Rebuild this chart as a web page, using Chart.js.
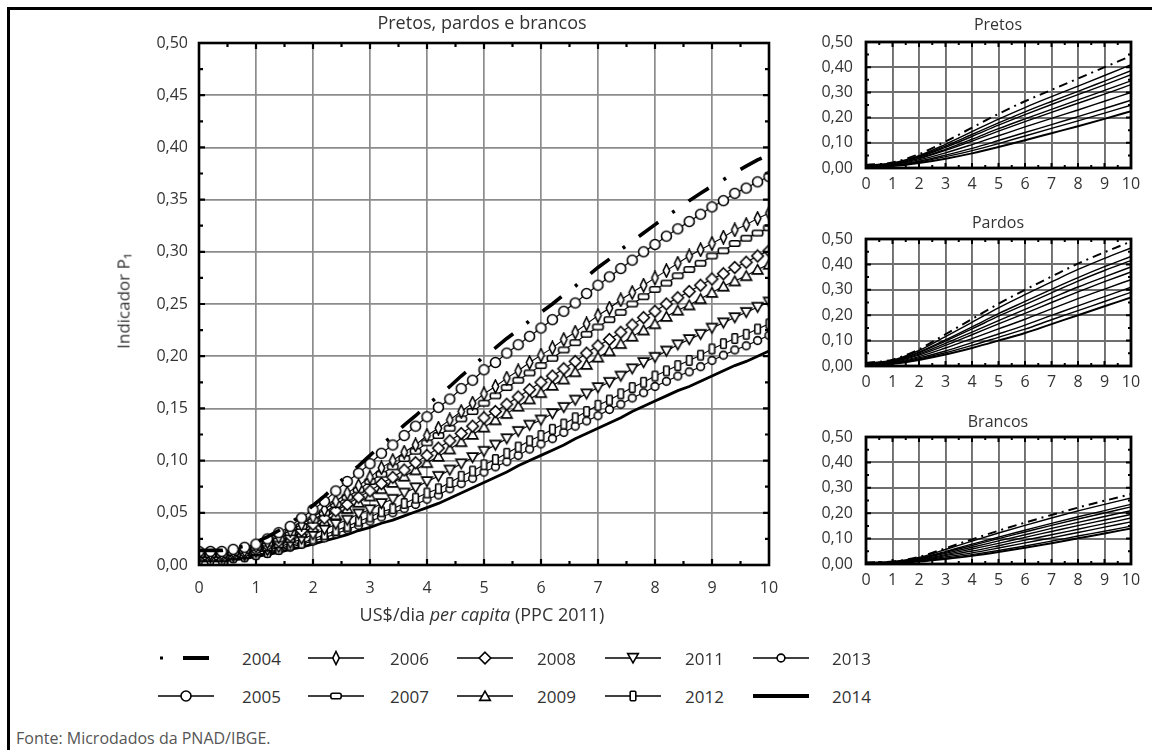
<!DOCTYPE html>
<html><head><meta charset="utf-8">
<script src="https://cdn.jsdelivr.net/npm/chart.js@4.4.1/dist/chart.umd.min.js"></script>
<style>
html,body{margin:0;padding:0;background:#fff;}
body{width:1156px;height:750px;position:relative;overflow:hidden;font-family:"Open Sans",sans-serif;color:#333;}
#frameTop{position:absolute;left:7px;top:7px;width:1145px;height:3px;background:#000;}
#frameLeft{position:absolute;left:7px;top:7px;width:3px;height:750px;background:#000;}
canvas.c{position:absolute;}
.t{position:absolute;white-space:nowrap;line-height:1;transform:translate(-50%,-50%);}
.lg{position:absolute;white-space:nowrap;line-height:1;transform:translateY(-50%);font-size:17px;color:#333;}
</style></head><body>
<div id="frameTop"></div><div id="frameLeft"></div>
<canvas class="c" id="main" width="800" height="640" style="left:0;top:0"></canvas>
<canvas class="c" id="pretos" width="376" height="200" style="left:780px;top:0"></canvas>
<canvas class="c" id="pardos" width="376" height="200" style="left:780px;top:200px"></canvas>
<canvas class="c" id="brancos" width="376" height="200" style="left:780px;top:400px"></canvas>
<div class="t" style="left:482px;top:22px;font-size:18px;">Pretos, pardos e brancos</div>
<div class="t" style="left:123px;top:301px;font-size:17px;transform:translate(-50%,-50%) rotate(-90deg);">Indicador P₁</div>
<div class="t" style="left:482px;top:614px;font-size:18px;">US$/dia <i>per capita</i> (PPC 2011)</div>
<div class="t" style="left:998px;top:24px;font-size:16px;">Pretos</div>
<div class="t" style="left:998px;top:222px;font-size:16px;">Pardos</div>
<div class="t" style="left:998px;top:421px;font-size:16px;">Brancos</div>
<div class="lg" style="left:16px;top:738px;font-size:16px;color:#555;">Fonte: Microdados da PNAD/IBGE.</div>
<div id="legend"></div>
<script>
// ---------- DATA ----------
const years = [2004,2005,2006,2007,2008,2009,2011,2012,2013,2014];
const xMain = [0,0.2,0.4,0.6,0.8,1,1.2,1.4,1.6,1.8,2,2.2,2.4,2.6,2.8,3,3.2,3.4,3.6,3.8,4,4.2,4.4,4.6,4.8,5,5.2,5.4,5.6,5.8,6,6.2,6.4,6.6,6.8,7,7.2,7.4,7.6,7.8,8,8.2,8.4,8.6,8.8,9,9.2,9.4,9.6,9.8,10];
const xSmall = [0,1,2,3,4,5,6,7,8,9,10];
const xTickLabels = ['0','1','2','3','4','5','6','7','8','9','10'];

const main2004 = [.014,.014,.014,.016,.018,.022,.027,.033,.040,.048,.057,.066,.076,.086,.095,.105,.115,.124,.134,.143,.153,.162,.171,.181,.190,.200,.208,.217,.225,.234,.242,.250,.259,.267,.276,.285,.293,.302,.310,.318,.326,.334,.341,.349,.356,.363,.369,.376,.382,.388,.393];
const main2005 = [.013,.013,.013,.015,.017,.020,.025,.031,.037,.045,.053,.061,.071,.080,.088,.097,.107,.115,.124,.133,.142,.151,.159,.169,.177,.187,.194,.203,.211,.219,.227,.235,.243,.251,.260,.268,.276,.284,.292,.300,.307,.315,.322,.329,.336,.343,.349,.356,.361,.367,.372];
const main2006 = [.011,.011,.011,.013,.014,.018,.022,.027,.033,.039,.046,.053,.061,.069,.076,.084,.093,.100,.108,.115,.124,.131,.139,.147,.155,.164,.171,.179,.186,.194,.201,.208,.216,.223,.231,.239,.246,.254,.261,.268,.275,.282,.289,.296,.302,.308,.314,.321,.326,.332,.337];
const main2007 = [.010,.010,.010,.012,.014,.017,.021,.025,.031,.037,.043,.050,.058,.065,.072,.080,.087,.094,.102,.109,.117,.124,.131,.140,.147,.155,.162,.170,.177,.184,.191,.198,.206,.213,.221,.228,.235,.242,.250,.257,.264,.270,.277,.283,.289,.296,.301,.308,.313,.318,.323];
const main2008 = [.009,.009,.009,.011,.012,.015,.019,.023,.028,.033,.039,.045,.052,.058,.065,.071,.078,.084,.091,.098,.105,.112,.119,.126,.133,.141,.147,.154,.161,.168,.175,.181,.188,.195,.203,.210,.216,.223,.230,.237,.243,.250,.256,.262,.268,.274,.279,.285,.290,.296,.301];
const main2009 = [.008,.008,.008,.010,.011,.014,.018,.021,.026,.031,.036,.042,.048,.054,.060,.066,.073,.079,.085,.091,.098,.104,.111,.118,.125,.132,.139,.145,.152,.159,.165,.172,.178,.185,.192,.199,.205,.212,.219,.225,.231,.238,.244,.249,.255,.261,.267,.272,.277,.283,.288];
const main2011 = [.007,.007,.007,.008,.009,.012,.014,.017,.021,.025,.029,.034,.039,.043,.049,.053,.059,.063,.069,.074,.080,.085,.091,.097,.103,.109,.115,.121,.128,.134,.139,.145,.151,.158,.164,.170,.175,.181,.188,.194,.199,.205,.211,.216,.221,.227,.232,.237,.242,.247,.252];
const main2012 = [.005,.005,.005,.007,.008,.010,.012,.015,.019,.021,.025,.029,.033,.037,.042,.046,.051,.054,.059,.064,.069,.073,.079,.085,.090,.096,.101,.107,.113,.119,.124,.130,.135,.141,.147,.153,.158,.164,.170,.175,.181,.186,.191,.196,.201,.207,.212,.217,.221,.226,.231];
const main2013 = [.005,.005,.005,.006,.007,.009,.011,.014,.017,.020,.023,.026,.030,.034,.038,.042,.046,.050,.054,.058,.063,.067,.073,.078,.083,.089,.094,.099,.105,.111,.116,.121,.127,.133,.138,.143,.149,.154,.160,.165,.171,.176,.181,.185,.190,.196,.201,.206,.210,.215,.220];
const main2014 = [.004,.004,.004,.005,.006,.008,.010,.012,.015,.017,.020,.023,.026,.029,.033,.036,.040,.043,.047,.051,.055,.059,.064,.069,.074,.079,.084,.089,.095,.100,.105,.110,.115,.121,.126,.131,.136,.141,.147,.152,.157,.162,.167,.171,.176,.181,.186,.191,.195,.200,.205];

const pretos2004 = [.012,.022,.055,.105,.160,.215,.265,.310,.355,.400,.445];
const pretos2005 = [.011,.020,.049,.094,.144,.194,.240,.283,.325,.367,.410];
const pretos2006 = [.010,.018,.046,.087,.133,.179,.223,.264,.304,.345,.386];
const pretos2007 = [.009,.017,.043,.082,.125,.170,.212,.252,.291,.330,.370];
const pretos2008 = [.008,.016,.039,.074,.114,.156,.195,.233,.270,.308,.346];
const pretos2009 = [.008,.015,.037,.070,.107,.146,.184,.221,.257,.293,.331];
const pretos2011 = [.007,.013,.032,.060,.093,.128,.163,.197,.230,.265,.300];
const pretos2012 = [.006,.011,.027,.051,.078,.109,.141,.172,.204,.236,.269];
const pretos2013 = [.005,.010,.024,.045,.069,.097,.127,.157,.187,.218,.249];
const pretos2014 = [.004,.008,.020,.037,.058,.083,.110,.138,.166,.195,.225];

const pardos2004 = [.012,.025,.066,.125,.185,.245,.300,.352,.403,.448,.490];
const pardos2005 = [.011,.023,.061,.116,.172,.229,.281,.331,.380,.424,.465];
const pardos2006 = [.010,.021,.055,.103,.154,.206,.254,.302,.348,.391,.431];
const pardos2007 = [.009,.020,.052,.098,.146,.196,.242,.288,.334,.376,.415];
const pardos2008 = [.008,.018,.047,.089,.133,.179,.223,.267,.311,.351,.390];
const pardos2009 = [.008,.016,.043,.081,.123,.166,.207,.250,.292,.332,.370];
const pardos2011 = [.007,.014,.037,.071,.108,.146,.184,.225,.265,.303,.340];
const pardos2012 = [.005,.012,.032,.059,.092,.126,.161,.199,.237,.273,.310];
const pardos2013 = [.005,.010,.028,.052,.081,.113,.145,.182,.218,.254,.290];
const pardos2014 = [.004,.009,.024,.045,.071,.100,.130,.165,.200,.235,.270];

const brancos2004 = [.006,.010,.028,.062,.097,.131,.163,.193,.222,.249,.275];
const brancos2005 = [.006,.009,.026,.057,.090,.122,.152,.181,.209,.235,.260];
const brancos2006 = [.005,.008,.023,.049,.078,.106,.133,.160,.186,.210,.235];
const brancos2007 = [.005,.008,.021,.046,.073,.100,.126,.152,.177,.201,.225];
const brancos2008 = [.004,.007,.019,.042,.066,.091,.115,.140,.164,.187,.210];
const brancos2009 = [.004,.006,.017,.037,.059,.081,.105,.128,.151,.173,.195];
const brancos2011 = [.003,.006,.015,.033,.051,.072,.094,.115,.137,.159,.181];
const brancos2012 = [.003,.005,.013,.028,.044,.063,.083,.103,.124,.145,.166];
const brancos2013 = [.002,.004,.011,.023,.037,.053,.071,.090,.110,.129,.149];
const brancos2014 = [.002,.004,.010,.020,.032,.047,.064,.082,.101,.120,.140];

const mainSeries = [main2004,main2005,main2006,main2007,main2008,main2009,main2011,main2012,main2013,main2014];
const pretosSeries = [pretos2004,pretos2005,pretos2006,pretos2007,pretos2008,pretos2009,pretos2011,pretos2012,pretos2013,pretos2014];
const pardosSeries = [pardos2004,pardos2005,pardos2006,pardos2007,pardos2008,pardos2009,pardos2011,pardos2012,pardos2013,pardos2014];
const brancosSeries = [brancos2004,brancos2005,brancos2006,brancos2007,brancos2008,brancos2009,brancos2011,brancos2012,brancos2013,brancos2014];

// ---------- STYLES ----------
const markerOf = {2004:'dashdot',2005:'circleL',2006:'narrowDiamond',2007:'flatRect',2008:'diamond',2009:'triangle',2011:'invTriangle',2012:'tallRect',2013:'circleS',2014:'solid'};
const FONT = '"Open Sans", sans-serif';

function drawShape(g, kind, cx, cy){
  g.save(); g.translate(cx,cy);
  g.fillStyle='#fff'; g.strokeStyle='#000'; g.lineWidth=1.6;
  g.beginPath();
  switch(kind){
    case 'circleL': g.arc(0,0,5,0,Math.PI*2); break;
    case 'circleS': g.arc(0,0,3.9,0,Math.PI*2); break;
    case 'narrowDiamond': g.moveTo(0,-6.5); g.lineTo(3.2,0); g.lineTo(0,6.5); g.lineTo(-3.2,0); g.closePath(); break;
    case 'flatRect': g.roundRect(-5.2,-2.8,10.4,5.6,2); break;
    case 'diamond': g.moveTo(0,-5.8); g.lineTo(5.8,0); g.lineTo(0,5.8); g.lineTo(-5.8,0); g.closePath(); break;
    case 'triangle': g.moveTo(0,-4.8); g.lineTo(5.3,4.4); g.lineTo(-5.3,4.4); g.closePath(); break;
    case 'invTriangle': g.moveTo(-5.3,-4.4); g.lineTo(5.3,-4.4); g.lineTo(0,4.8); g.closePath(); break;
    case 'tallRect': g.roundRect(-2.8,-4.8,5.6,9.6,1); break;
  }
  g.fill(); g.stroke(); g.restore();
}
function markerCanvas(kind){
  const c=document.createElement('canvas');
  c.width=15; c.height=15;
  drawShape(c.getContext('2d'), kind, 7.5, 7.5);
  return c;
}

const frameTicks = {
  id:'frameTicks',
  afterDatasetsDraw(chart, args, o){
    const {ctx, chartArea:a, scales:{x,y}} = chart;
    ctx.save();
    ctx.strokeStyle='#000';
    ctx.lineWidth=o.tickWidth; ctx.beginPath();
    for(let i=1;i<20;i++){
      const v=i*0.5, px=x.getPixelForValue(v), L=(i%2?o.minorLen:o.majorLen);
      ctx.moveTo(px,a.top); ctx.lineTo(px,a.top+L);
      ctx.moveTo(px,a.bottom); ctx.lineTo(px,a.bottom-L);
    }
    const n=Math.round(0.5/o.yMinor);
    for(let i=1;i<n;i++){
      const py=y.getPixelForValue(i*o.yMinor), L=(i%2?o.minorLen:o.majorLen);
      ctx.moveTo(a.left,py); ctx.lineTo(a.left+L,py);
      ctx.moveTo(a.right,py); ctx.lineTo(a.right-L,py);
    }
    ctx.stroke();
    ctx.lineWidth=o.frameWidth;
    ctx.strokeRect(a.left,a.top,a.right-a.left,a.bottom-a.top);
    ctx.restore();
  }
};

function makeChart(id, xs, series, cfg){
  const datasets = years.map((yr,i)=>{
    const kind = markerOf[yr];
    const d = {label:String(yr), data: xs.map((x,j)=>({x, y:series[i][j]})),
      borderColor:'#000', backgroundColor:'#fff', fill:false,
      cubicInterpolationMode: cfg.smooth ? 'monotone' : 'default', tension:0};
    if(kind==='dashdot'){ Object.assign(d,{borderWidth:cfg.dashWidth, borderDash:cfg.dash, pointRadius:0}); }
    else if(kind==='solid'){ Object.assign(d,{borderWidth:cfg.solidWidth, pointRadius:0}); }
    else { Object.assign(d,{borderWidth:cfg.lineWidth, pointRadius:cfg.markers?4:0, pointStyle:cfg.markers?markerCanvas(kind):'circle'}); }
    return d;
  });
  return new Chart(document.getElementById(id), {
    type:'line',
    data:{datasets},
    options:{
      responsive:false, animation:false, events:[],
      layout:{padding:{left:0, top:cfg.top, right:cfg.right, bottom:0}},
      plugins:{legend:{display:false}, tooltip:{enabled:false}, title:{display:false},
        frameTicks:{tickWidth:cfg.tickWidth, minorLen:cfg.minorLen, majorLen:cfg.majorLen, frameWidth:cfg.frameWidth, yMinor:cfg.yStep/2}},
      scales:{
        x:{type:'linear', min:0, max:10,
          ticks:{stepSize:1, padding:cfg.xPad, color:'#333', font:{family:FONT,size:cfg.tickSize},
            callback:(v)=>xTickLabels[Math.round(v)] ?? ''},
          grid:{color:cfg.gridColor, lineWidth:cfg.gridWidth, drawTicks:false},
          border:{display:false},
          afterFit:(s)=>{s.height=cfg.xHeight;}},
        y:{type:'linear', min:0, max:0.5,
          ticks:{stepSize:cfg.yStep, padding:cfg.yPad, color:'#333', font:{family:FONT,size:cfg.tickSize},
            callback:(v)=>v.toFixed(2).replace('.',',')},
          grid:{color:cfg.gridColor, lineWidth:cfg.gridWidth, drawTicks:false},
          border:{display:false},
          afterFit:(s)=>{s.width=cfg.left;}}
      }
    },
    plugins:[frameTicks]
  });
}

makeChart('main', xMain, mainSeries, {top:43, right:31, left:199, xHeight:75, xPad:14, yPad:11, yStep:0.05,
  tickSize:16, gridColor:'#8c8c8c', gridWidth:1.7, markers:true, smooth:false,
  dash:[24,17,3,17], dashWidth:3.6, solidWidth:2.8, lineWidth:1.1,
  tickWidth:2.2, minorLen:4, majorLen:6, frameWidth:2.6});
const smallCfg = (top,xh)=>({top, right:25, left:86, xHeight:xh, xPad:7, yPad:13, yStep:0.1,
  tickSize:16, gridColor:'#6e6e6e', gridWidth:1.9, markers:false, smooth:true,
  dash:[9,5,2,5], dashWidth:2, solidWidth:2, lineWidth:1.4,
  tickWidth:2, minorLen:3, majorLen:5, frameWidth:2.8});
makeChart('pretos', xSmall, pretosSeries, smallCfg(42,32));
makeChart('pardos', xSmall, pardosSeries, smallCfg(39,34));
makeChart('brancos', xSmall, brancosSeries, smallCfg(37,36));

// ---------- LEGEND ----------
const legendRows = [[2004,2006,2008,2011,2013],[2005,2007,2009,2012,2014]];
const legendSampleX = [158,308,457,605,753];
const legendTextX = [242,390,537,685,832];
const legendRowY = [658,696];
const lg = document.getElementById('legend');
legendRows.forEach((row,r)=>{
  row.forEach((yr,c)=>{
    const cv=document.createElement('canvas');
    cv.width=56; cv.height=16; cv.className='c';
    cv.style.left=legendSampleX[c]+'px'; cv.style.top=(legendRowY[r]-8)+'px';
    const g=cv.getContext('2d'); const kind=markerOf[yr];
    g.strokeStyle='#000'; g.fillStyle='#000';
    if(kind==='dashdot'){ g.fillRect(2,6.5,3,3); g.fillRect(25,6,26,4); }
    else if(kind==='solid'){ g.fillRect(0,6,56,4); }
    else { g.lineWidth=1.5; g.beginPath(); g.moveTo(0,8); g.lineTo(56,8); g.stroke(); drawShape(g,kind,28,8); }
    lg.appendChild(cv);
    const t=document.createElement('div'); t.className='lg';
    t.style.left=legendTextX[c]+'px'; t.style.top=legendRowY[r]+'px'; t.textContent=String(yr);
    lg.appendChild(t);
  });
});
</script>
</body></html>
